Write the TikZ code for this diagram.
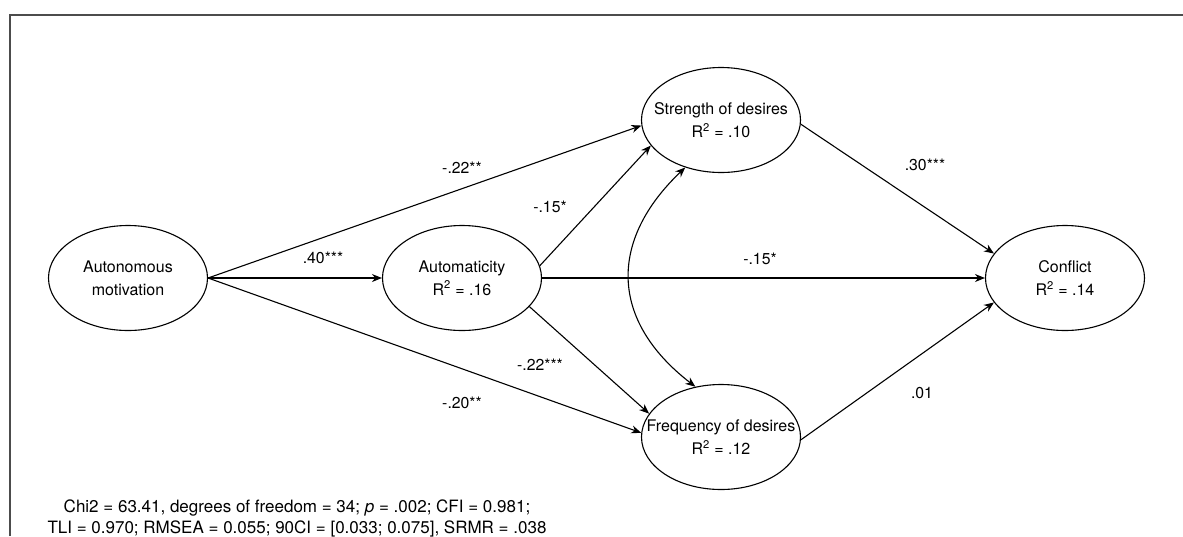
\documentclass[tikz,border=0pt]{standalone}
\usepackage{fontspec}
\setmainfont{TeX Gyre Heros}
\usetikzlibrary{arrows.meta,shapes.geometric}
\begin{document}
\begin{tikzpicture}[x=1pt,y=-1pt,
  latent/.style={draw, ellipse, line width=1.1pt, minimum width=159pt, minimum height=105pt,
    inner xsep=-24pt, inner ysep=0pt, align=center, font=\fontsize{16}{23}\selectfont},
  reg/.style={draw, line width=1.1pt, -{Stealth[length=10pt,width=8pt]}},
  cov/.style={draw, line width=1.1pt, {Stealth[length=10pt,width=8pt]}-{Stealth[length=10pt,width=8pt]}},
  coef/.style={font=\fontsize{15.8}{18}\selectfont, inner sep=0pt},
  frame/.style={draw=black!70, line width=1.5pt},
  foot/.style={align=center, inner sep=0pt, font=\fontsize{17}{21}\selectfont},
]
\useasboundingbox (0,0) rectangle (1183,536);
\draw[frame] (10,536) -- (10,15) -- (1183,15);

\node[latent] (aut) at (128,278) {Autonomous\\motivation};
\node[latent] (atm) at (462,278) {Automaticity\\R\textsuperscript{2} = .16};
\node[latent] (str) at (721,120) {Strength of desires\\R\textsuperscript{2} = .10};
\node[latent] (frq) at (721,437) {Frequency of desires\\R\textsuperscript{2} = .12};
\node[latent] (con) at (1065,278) {Conflict\\R\textsuperscript{2} = .14};

\draw[reg] (aut.east) -- (atm.west);
\draw[reg] (aut.east) -- (str.184);
\draw[reg] (aut.east) -- (frq.177);
\draw[reg] (atm.9) -- (str.200);
\draw[reg] (atm.-23) -- (frq.162);
\draw[reg] (atm.east) -- (con.west);
\draw[reg] (str.-3) -- (con.161);
\draw[reg] (frq.-2) -- (con.199);
\draw[cov] (str.233) .. controls (609,240) and (609,320) .. (frq.117);

\node[coef] (c1) at (323,258) {.40***};
\node[coef] (c2) at (462,168) {-.22**};
\node[coef] (c3) at (462,403) {-.20**};
\node[coef] (c4) at (550,207) {-.15*};
\node[coef] (c5) at (540,365) {-.22***};
\node[coef] (c6) at (760,259) {-.15*};
\node[coef] (c7) at (925,165) {.30***};
\node[coef] (c8) at (922,393) {.01};

\node[foot] (fit) at (297,518.5) {Chi2 = 63.41, degrees of freedom = 34; \textit{p} = .002; CFI = 0.981;\\TLI = 0.970; RMSEA = 0.055; 90CI = [0.033; 0.075], SRMR = .038};
\end{tikzpicture}
\end{document}
